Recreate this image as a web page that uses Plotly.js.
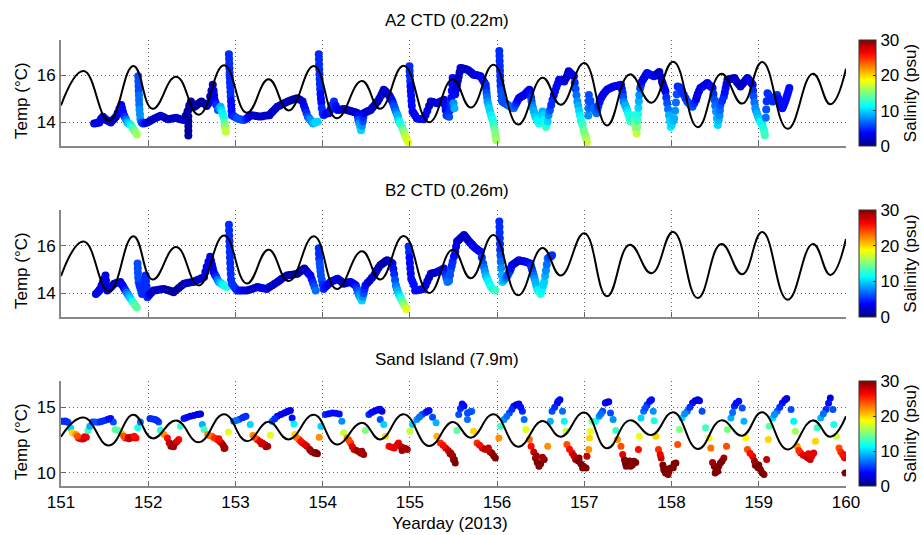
<!DOCTYPE html>
<html>
<head>
<meta charset="utf-8">
<script src="https://cdn.plot.ly/plotly-3.0.1.min.js"></script>
<style>
html,body{margin:0;padding:0;background:#fff;}
#chart{width:923px;height:535px;}
</style>
</head>
<body>
<div id="chart"></div>
<script>
// ---- Tidal signal (black line), extremes ----
const tideDay = [151.00,151.26,151.55,151.83,152.05,152.32,152.58,152.87,153.13,153.38,153.61,153.90,154.16,154.45,154.66,154.93,155.22,155.49,155.70,155.96,156.24,156.52,156.73,157.00,157.26,157.52,157.77,158.02,158.30,158.57,158.81,159.04,159.33,159.62,159.82,160.00];
const tideCTD = [14.72,16.18,14.08,16.40,14.58,15.94,14.33,16.43,14.41,15.83,14.51,16.40,14.18,15.76,14.58,16.41,14.01,15.83,14.63,16.45,13.91,15.90,14.75,16.52,13.87,16.04,14.84,16.58,13.80,16.07,14.80,16.57,13.73,16.07,14.77,16.28];
const tideSand = [12.75,14.21,12.09,14.42,12.63,13.99,12.33,14.47,12.42,13.89,12.55,14.42,12.17,13.81,12.55,14.47,12.05,13.88,12.68,14.47,12.00,13.96,12.75,14.60,11.87,14.00,12.88,14.62,11.82,14.00,12.83,14.62,11.79,14.00,12.75,14.32];

// ---- A2 CTD (0.22m) ----
const a2Day = [
151.38,151.40,151.42,151.44,151.45,151.46,151.48,151.50,151.52,151.54,151.57,151.59,151.61,151.63,151.65,151.67,151.69,151.70,151.71,151.72,151.73,151.745,151.76,151.78,151.80,151.82,151.84,151.855,151.87,
151.885,151.887,151.889,151.891,151.893,151.895,151.897,151.90,151.905,151.91,
151.925,151.94,151.96,151.99,152.02,152.05,152.08,152.11,152.14,152.17,152.20,152.23,152.26,152.29,152.32,152.35,152.38,152.41,152.43,152.45,
152.46,152.46,152.46,152.46,152.46,152.465,152.47,152.49,152.51,152.53,152.55,152.57,152.59,152.61,152.63,152.65,152.67,152.69,152.71,152.725,152.74,152.75,152.755,152.76,152.77,152.78,152.80,152.815,152.83,152.84,152.85,152.86,152.87,152.875,152.88,152.885,152.89,
152.925,152.927,152.929,152.931,152.933,152.935,152.937,152.94,152.943,152.946,152.949,152.952,152.955,152.96,
152.98,153.00,153.02,153.04,153.06,153.08,153.10,153.12,153.14,153.16,153.18,153.21,153.24,153.27,153.30,153.33,153.36,153.39,153.41,153.43,153.455,153.48,153.51,153.54,153.57,153.60,153.63,153.66,153.69,153.71,153.74,153.77,153.785,153.80,153.815,153.83,153.845,153.86,153.875,153.89,153.915,153.94,
153.955,153.957,153.959,153.961,153.963,153.965,153.968,153.971,153.975,153.98,153.985,153.99,154.00,154.01,
154.025,154.04,154.055,154.07,154.085,154.10,154.115,154.13,154.15,154.17,154.19,154.21,154.24,154.26,154.28,154.30,154.32,154.34,154.36,154.38,154.40,
154.405,154.41,154.42,154.43,154.44,154.45,154.46,154.465,154.47,154.49,154.51,154.53,154.55,154.57,154.59,154.61,154.63,154.65,154.67,154.685,154.70,154.715,154.73,154.745,154.76,154.77,154.78,154.79,154.80,154.81,154.82,154.83,154.84,154.85,154.86,154.865,154.87,154.88,154.89,154.90,154.91,154.92,154.93,154.94,154.95,154.965,154.98,
154.995,154.997,155.00,155.003,155.006,155.01,155.014,155.018,155.022,155.03,
155.045,155.06,155.08,155.10,155.12,155.14,155.16,155.18,155.20,155.22,155.24,155.26,155.28,155.31,155.33,155.35,155.37,155.39,155.40,155.41,155.42,155.435,155.45,155.46,155.47,155.475,155.48,155.485,155.49,
155.50,155.51,155.52,155.53,155.54,155.55,155.56,155.57,155.58,155.60,155.62,155.64,155.66,155.68,155.70,155.715,155.73,155.75,155.77,155.79,155.81,155.825,155.84,155.855,155.87,155.875,155.88,155.885,155.89,155.90,155.91,155.92,155.93,155.94,155.95,155.955,155.96,155.97,155.98,155.985,155.99,
156.025,156.027,156.029,156.031,156.033,156.035,156.037,156.04,156.045,156.05,156.055,156.06,
156.075,156.09,156.105,156.12,156.14,156.16,156.175,156.19,156.205,156.22,156.235,156.25,156.265,156.28,156.295,156.31,156.325,156.34,156.355,156.37,
156.38,156.39,156.395,156.40,156.41,156.42,156.43,156.44,156.45,156.46,156.47,156.48,156.49,156.50,156.51,156.52,156.53,156.54,156.55,156.56,156.57,156.58,156.59,156.605,156.62,156.635,156.65,156.665,156.68,156.695,156.71,
156.725,156.74,156.755,156.77,156.785,156.80,156.81,156.82,156.835,156.85,156.865,156.88,
156.89,156.90,156.91,156.92,156.93,156.94,156.95,156.96,156.97,156.98,156.99,157.00,157.01,157.02,157.03,
157.045,157.047,157.05,157.052,
157.07,157.09,157.105,157.12,157.13,157.14,157.15,157.16,157.175,157.19,157.205,157.22,157.24,157.26,157.28,157.30,157.32,157.34,157.36,157.38,157.40,157.42,
157.43,157.44,157.445,157.45,157.46,157.47,157.48,157.49,157.50,157.51,157.52,157.53,157.54,157.55,157.56,157.57,157.575,157.58,157.59,157.60,157.605,157.61,157.615,157.62,157.625,157.63,157.64,157.65,157.66,157.675,157.69,157.705,157.72,
157.74,157.76,157.78,157.80,157.815,157.83,157.845,157.86,157.875,157.89,157.90,157.91,157.92,157.93,157.94,157.95,157.96,157.97,157.98,157.99,
158.00,158.01,158.02,158.03,158.04,158.05,158.06,158.07,158.085,158.10,158.12,158.14,158.16,158.18,158.195,158.21,158.225,158.24,158.26,158.28,158.29,158.30,158.315,158.33,158.35,158.37,158.39,158.41,158.425,158.44,158.455,158.47,
158.48,158.49,158.50,158.51,158.52,158.53,158.54,158.55,158.555,158.56,158.58,158.60,158.61,158.62,158.63,158.64,158.66,158.68,158.70,158.72,158.735,158.75,158.77,158.79,158.81,158.83,158.85,158.87,158.885,158.90,158.915,158.93,
158.935,158.94,158.95,158.96,158.97,158.98,158.99,159.00,159.01,159.02,159.03,159.04,159.05,159.06,159.065,159.07,
159.08,159.085,159.09,
159.10,159.115,159.13,159.145,159.16,159.175,159.19,159.20,159.21,159.225,159.24,159.255,159.27,159.28,159.29,159.30,159.31,159.32,159.33,159.34,159.35];
const a2Temp = [
13.96,13.97,13.99,14.00,14.08,14.16,14.24,14.17,14.10,14.06,14.00,14.08,14.16,14.24,14.40,14.58,14.74,14.60,14.45,14.32,14.24,14.12,14.00,13.95,13.89,13.78,13.67,13.58,13.49,
15.96,15.75,15.55,15.35,15.15,14.95,14.75,14.55,14.35,14.15,
14.00,13.96,13.97,14.00,14.06,14.12,14.18,14.23,14.28,14.24,14.18,14.14,14.16,14.18,14.20,14.16,14.12,14.10,14.28,14.46,
14.25,14.05,13.85,13.65,13.45,14.55,14.72,14.89,14.78,14.67,14.72,14.78,14.84,14.89,14.83,14.78,14.70,14.80,15.10,15.35,15.60,15.35,15.15,14.96,14.85,14.75,14.53,14.60,14.67,14.52,14.40,14.28,14.17,14.00,13.85,13.72,13.60,
16.89,16.70,16.50,16.30,16.10,15.90,15.70,15.50,15.30,15.10,14.90,14.70,14.50,14.31,
14.26,14.22,14.18,14.15,14.13,14.11,14.10,14.15,14.20,14.26,14.31,14.29,14.27,14.25,14.25,14.28,14.30,14.31,14.40,14.48,14.57,14.67,14.72,14.78,14.84,14.89,14.93,14.97,15.01,15.03,14.96,14.89,14.72,14.56,14.40,14.24,14.17,14.10,14.03,13.96,14.00,14.03,
16.89,16.68,16.47,16.26,16.05,15.84,15.63,15.42,15.22,15.02,14.85,14.60,14.40,14.31,
14.35,14.39,14.39,14.39,14.51,14.64,14.76,14.89,14.71,14.53,14.54,14.55,14.57,14.55,14.53,14.51,14.49,14.46,14.44,14.42,14.39,
14.25,14.10,13.96,13.82,13.67,13.86,14.05,14.22,14.39,14.42,14.46,14.50,14.53,14.62,14.71,14.80,14.89,15.02,15.14,15.26,15.39,15.33,15.28,15.22,15.17,15.10,15.03,14.96,14.89,14.78,14.68,14.57,14.46,14.37,14.28,14.19,14.10,14.02,13.95,13.88,13.81,13.70,13.60,13.50,13.39,13.28,13.17,
16.39,16.18,15.97,15.76,15.55,15.34,15.13,14.92,14.71,14.46,
14.38,14.30,14.17,14.16,14.15,14.15,14.14,14.32,14.50,14.70,14.89,14.87,14.85,14.81,14.85,14.88,14.92,14.96,14.75,14.53,14.31,14.27,14.24,14.52,14.80,15.05,15.35,15.62,15.89,
14.81,14.60,15.20,15.40,15.60,15.78,15.95,16.13,16.31,16.30,16.28,16.26,16.24,16.18,16.13,16.08,16.03,16.01,16.00,15.98,15.96,15.87,15.78,15.69,15.60,15.42,15.25,15.07,14.89,14.75,14.60,14.45,14.31,14.20,14.10,14.00,13.89,13.72,13.55,13.40,13.24,
17.03,16.82,16.61,16.40,16.19,15.98,15.77,15.56,15.35,15.14,14.95,14.89,
14.85,14.82,14.78,14.74,14.70,14.67,14.63,14.60,14.71,14.82,14.93,15.03,15.07,15.10,15.13,15.17,15.22,15.28,15.33,15.39,
15.22,15.05,14.90,14.74,14.62,14.49,14.36,14.24,14.17,14.10,14.03,13.96,14.08,14.20,14.33,14.46,14.30,14.13,13.97,13.81,13.93,14.05,14.31,14.52,14.74,14.95,15.17,15.33,15.50,15.65,15.81,
15.80,15.78,15.76,15.74,15.85,15.95,16.06,16.17,16.11,16.06,16.01,15.96,
15.69,15.42,15.15,14.89,14.70,14.50,14.30,14.10,13.99,13.88,13.67,13.56,13.46,13.31,13.17,
14.30,14.60,14.90,15.17,
14.92,14.67,14.60,14.53,14.46,14.39,14.55,14.70,14.87,15.03,15.12,15.21,15.30,15.39,15.43,15.46,15.50,15.53,15.55,15.56,15.58,15.60,
15.42,15.25,15.07,14.89,14.80,14.71,14.62,14.53,14.40,14.28,14.15,14.03,14.10,14.17,14.24,14.31,14.11,13.92,13.72,13.53,13.80,14.08,14.35,14.62,14.90,15.17,15.45,15.60,15.74,15.83,15.92,16.01,16.10,
16.06,16.03,15.99,15.96,16.00,16.05,16.10,16.14,15.94,15.74,15.63,15.52,15.42,15.31,15.06,14.81,14.56,14.31,14.06,13.81,
13.90,14.00,14.09,14.17,14.50,14.85,15.20,15.53,15.50,15.46,15.32,15.18,15.03,14.89,14.83,14.78,14.72,14.67,14.82,14.96,15.08,15.21,15.33,15.46,15.51,15.56,15.61,15.67,15.61,15.56,15.51,15.46,
15.21,14.96,14.71,14.46,14.17,13.89,14.09,14.30,14.52,14.74,14.92,15.10,15.27,15.45,15.63,15.81,15.83,15.85,15.87,15.89,15.80,15.71,15.62,15.53,15.62,15.71,15.80,15.89,15.82,15.75,15.67,15.60,
15.35,15.10,14.85,14.60,14.49,14.38,14.27,14.17,14.10,14.03,13.96,13.89,13.78,13.67,13.56,13.46,
14.20,14.55,14.90,
15.24,15.15,15.06,14.97,14.89,14.96,15.03,15.10,15.17,15.02,14.88,14.74,14.60,14.69,14.78,14.87,14.96,15.09,15.21,15.34,15.46];
const a2Sal = [
3,3,3,3,3,3,3,2,2,2,2,2,2,2,3,3,3,4,4,4,5,7,9,10,11,13,14,15,16,
6,6,6,6,7,7,7,8,8,8,
6,5,4,3,2,2,2,2,2,2,2,2,2,2,2,2,2,2,1,1,
1,1,1,1,1,1,1,1,1,1,1,1,1,1,1,1,1,2,2,2,2,3,3,3,4,5,6,8,9,10,11,11,12,14,15,16,17,
5,5,5,5,5,5,5,5,5,5,4,4,4,4,
5,5,6,6,6,6,6,5,4,3,3,2,2,2,2,2,2,2,2,2,2,2,2,2,2,2,1,1,1,1,2,2,3,4,5,6,7,8,8,9,10,10,
5,5,5,5,5,5,5,5,4,4,4,5,5,5,
4,4,3,3,4,4,5,5,4,4,3,3,2,2,2,2,2,2,2,2,2,
4,6,8,9,10,8,6,5,4,3,2,2,2,2,2,2,2,2,2,2,2,2,2,2,2,3,3,4,4,5,6,6,7,8,9,9,10,11,12,12,13,14,15,16,17,17,18,
5,5,5,5,4,4,4,4,4,4,
3,3,3,4,4,4,4,3,3,2,2,2,2,3,3,3,3,3,4,4,5,5,6,5,5,4,4,4,4,
8,9,4,3,3,2,2,2,2,2,2,2,2,2,2,2,2,3,3,3,3,4,4,4,5,5,6,7,8,9,10,10,11,11,12,12,13,14,15,15,16,
5,5,5,5,5,5,5,5,6,6,6,6,
6,6,6,6,7,7,7,7,6,5,4,3,3,3,3,3,3,3,3,3,
4,5,6,7,8,9,9,10,10,11,11,12,11,11,10,9,10,11,12,13,12,10,8,6,5,5,4,4,4,4,4,
3,3,3,3,2,2,2,2,3,3,3,3,
5,6,7,8,9,10,11,12,12,13,14,15,15,16,17,
8,7,6,6,
6,6,7,7,7,7,6,5,4,4,3,3,3,3,3,3,3,3,3,3,3,3,
4,5,6,7,8,9,9,10,11,12,12,13,13,12,12,12,13,15,16,17,15,13,12,10,9,8,6,5,4,3,3,3,3,
4,4,4,4,3,3,2,2,2,2,2,2,3,3,5,6,7,9,10,11,
10,10,9,9,8,7,6,5,5,5,5,5,5,5,6,6,6,6,5,4,3,3,3,3,3,3,3,3,3,3,4,4,
5,6,7,8,9,10,9,8,7,6,5,5,4,4,3,3,2,2,2,2,2,2,2,2,2,2,2,2,3,3,3,3,
5,6,7,8,8,9,9,10,10,11,11,11,12,12,13,13,
7,6,5,
5,5,5,5,5,5,5,5,5,4,4,4,4,4,4,4,4,4,4,4,4];

// ---- B2 CTD (0.26m) ----
const b2Day = [
151.40,151.42,151.43,151.44,151.45,151.465,151.48,151.495,151.51,151.515,151.52,151.53,151.55,151.57,151.59,151.61,151.64,151.68,151.695,151.71,151.725,151.74,151.755,151.77,151.785,151.80,151.82,151.84,151.855,151.87,
151.878,151.88,151.882,151.885,151.89,151.90,151.91,151.92,151.93,151.94,151.95,151.96,151.97,151.975,151.98,151.985,151.99,152.005,152.02,152.04,152.06,152.09,152.12,152.15,152.18,152.21,152.24,
152.265,152.29,152.32,152.35,152.38,152.41,152.435,152.46,152.49,152.52,152.55,152.58,152.61,152.64,152.655,152.67,152.69,152.71,152.72,152.73,152.74,152.75,152.765,152.78,152.795,152.81,152.825,152.84,152.855,152.87,152.885,152.90,
152.925,152.927,152.929,152.931,152.933,152.935,152.937,152.94,152.943,152.946,152.95,152.96,152.98,153.00,153.02,
153.045,153.07,153.10,153.13,153.16,153.19,153.22,153.25,153.275,153.30,153.33,153.36,153.39,153.42,153.45,153.48,153.505,153.53,153.56,153.59,153.62,153.65,153.68,153.71,153.73,153.75,153.77,153.79,153.805,153.82,153.84,153.86,153.875,153.89,153.905,153.92,
153.955,153.957,153.96,153.965,153.97,153.975,153.98,153.99,154.00,154.01,
154.03,154.05,154.07,154.09,154.11,154.13,154.15,154.17,154.19,154.21,154.225,154.24,154.26,154.28,154.30,154.32,154.335,154.35,154.365,154.38,154.39,154.40,154.41,154.42,154.435,154.45,154.46,154.47,154.48,154.49,154.515,154.54,154.565,154.59,154.605,154.62,
154.64,154.66,154.68,154.70,154.72,154.74,154.755,154.77,154.785,154.80,154.81,154.82,154.83,154.84,154.85,154.86,154.875,154.89,154.90,154.91,154.92,154.93,154.945,154.96,
154.985,154.99,154.995,155.00,155.005,155.01,155.015,155.03,155.045,155.06,155.085,155.11,155.135,155.16,155.18,155.20,155.22,155.24,155.26,155.28,155.31,155.33,155.35,155.37,155.39,155.40,155.41,155.42,155.43,155.44,155.45,155.46,155.47,155.48,155.49,155.505,155.52,155.53,155.54,
155.56,155.58,155.60,155.62,155.635,155.65,155.665,155.68,155.695,155.71,155.72,155.73,155.75,155.77,155.79,155.81,155.825,155.84,155.85,155.86,155.87,155.885,155.90,155.915,155.93,155.95,155.965,155.98,
156.025,156.027,156.029,156.031,156.033,156.035,156.038,156.042,156.047,156.052,156.06,
156.075,156.09,156.105,156.12,156.135,156.15,156.16,156.17,156.19,156.21,156.23,156.25,156.27,156.29,156.31,156.33,156.355,156.38,156.39,156.40,156.41,156.42,156.43,156.44,156.45,156.46,156.47,156.48,156.49,156.50,156.51,156.52,156.53,156.54,156.55,156.56,156.57,156.58,156.595,156.61,156.62,156.63];
const b2Temp = [
13.97,14.04,14.07,14.12,14.18,14.32,14.46,14.60,14.75,14.54,14.33,14.11,14.18,14.25,14.33,14.40,14.44,14.47,14.38,14.30,14.20,14.11,14.02,13.94,13.85,13.76,13.65,13.55,13.47,13.40,
15.25,15.05,14.86,14.66,14.47,14.34,14.22,14.10,13.97,14.16,14.36,14.55,14.75,14.52,14.29,14.06,13.83,13.90,13.97,14.04,14.11,14.13,14.15,14.17,14.18,14.15,14.11,
14.08,14.04,14.13,14.22,14.31,14.40,14.42,14.44,14.46,14.47,14.53,14.58,14.63,14.68,14.89,15.10,15.32,15.53,15.37,15.21,15.05,14.89,14.78,14.68,14.57,14.47,14.44,14.40,14.37,14.33,14.30,14.26,
16.88,16.65,16.42,16.19,15.96,15.73,15.50,15.27,15.04,14.81,14.58,14.40,14.29,14.20,14.11,
14.11,14.11,14.11,14.11,14.15,14.18,14.22,14.26,14.24,14.22,14.20,14.18,14.26,14.33,14.40,14.47,14.54,14.61,14.68,14.75,14.77,14.78,14.80,14.82,14.88,14.93,14.99,15.04,14.97,14.90,14.82,14.75,14.59,14.43,14.27,14.11,
15.89,15.67,15.45,15.27,15.10,14.92,14.75,14.56,14.37,14.18,
14.26,14.33,14.40,14.47,14.51,14.54,14.58,14.61,14.56,14.50,14.45,14.40,14.42,14.44,14.46,14.47,14.44,14.40,14.37,14.33,14.22,14.10,14.00,13.90,13.80,13.69,13.85,14.00,14.17,14.33,14.44,14.54,14.65,14.75,14.86,14.96,
15.07,15.18,15.23,15.28,15.34,15.39,15.36,15.32,15.28,15.25,15.02,14.80,14.56,14.33,14.20,14.08,13.95,13.83,13.76,13.69,13.62,13.55,13.44,13.33,
15.96,15.73,15.50,15.27,15.05,14.83,14.61,14.48,14.36,14.11,14.13,14.15,14.17,14.18,14.34,14.50,14.66,14.82,14.84,14.85,14.89,14.92,14.96,15.00,15.04,14.92,14.79,14.63,14.47,14.50,14.54,14.77,15.00,15.16,15.32,15.54,15.75,15.96,16.17,
16.24,16.31,16.38,16.45,16.38,16.31,16.24,16.17,16.11,16.06,16.01,15.96,15.90,15.85,15.79,15.74,15.50,15.25,15.08,14.92,14.75,14.62,14.50,14.38,14.26,14.18,14.15,14.11,
17.02,16.78,16.55,16.31,16.07,15.83,15.60,15.32,15.05,14.76,14.47,
14.54,14.61,14.68,14.75,14.86,14.96,15.07,15.18,15.23,15.28,15.33,15.39,15.37,15.35,15.33,15.32,15.28,15.25,15.12,15.00,14.87,14.75,14.61,14.47,14.32,14.18,14.12,14.07,14.02,13.97,14.10,14.22,14.35,14.47,14.72,14.96,15.21,15.46,15.50,15.53,15.57,15.60];
const b2Sal = [
3,3,3,3,3,3,3,3,3,3,3,3,2,2,2,2,2,2,3,3,4,5,7,8,9,10,12,13,14,14,
6,6,6,6,6,5,5,5,5,5,5,5,5,5,5,5,5,4,3,2,2,2,2,2,2,1,1,
1,1,1,1,1,1,2,2,2,2,2,2,2,2,3,3,3,3,3,3,3,3,4,5,7,8,9,10,11,11,12,12,
5,5,5,5,5,5,5,5,5,5,5,5,5,5,5,
4,4,3,3,2,2,2,2,3,3,3,3,2,2,2,2,2,2,2,2,1,1,1,1,1,1,1,1,2,2,3,3,4,5,6,7,
5,5,5,6,6,6,6,6,5,5,
4,4,3,3,3,3,3,3,2,2,2,2,2,2,2,2,3,3,3,4,5,6,7,8,9,10,8,6,5,4,3,2,2,2,2,2,
2,2,1,1,1,1,2,2,3,3,4,5,6,7,8,9,10,11,12,13,14,15,16,18,
5,5,4,4,4,4,4,4,4,4,4,4,4,4,3,3,2,2,2,2,2,3,3,3,3,4,5,6,8,7,7,6,6,5,5,4,4,3,3,
2,2,2,2,2,2,2,2,2,3,3,3,3,3,3,4,5,6,7,8,9,10,11,11,12,12,12,13,
5,5,5,5,5,5,6,7,8,9,10,
9,8,7,6,5,5,4,4,3,3,2,2,3,3,3,3,4,4,5,5,6,7,8,9,9,10,11,11,12,12,11,11,10,10,9,8,7,7,6,6,5,5];

// ---- Sand Island (7.9m) ----
const sandDay = [151.01,151.05,151.08,151.11,151.13,151.17,151.20,151.24,151.29,151.31,151.33,151.36,151.42,151.47,151.53,151.57,151.60,151.62,151.66,151.70,151.74,151.80,151.86,151.88,151.91,152.02,152.08,152.12,152.14,152.18,152.22,152.26,152.31,152.35,152.37,152.41,152.48,152.56,152.60,152.62,152.64,152.68,152.73,152.79,152.84,152.88,152.92,152.98,153.04,153.12,153.17,153.20,153.25,153.31,153.37,153.40,153.42,153.48,153.56,153.63,153.65,153.67,153.68,153.73,153.77,153.82,153.88,153.94,153.96,153.98,154.03,154.11,154.19,154.22,154.24,154.28,154.32,154.36,154.42,154.47,154.49,154.53,154.59,154.64,154.68,154.66,154.70,154.72,154.76,154.82,154.87,154.93,154.97,155.00,155.03,155.08,155.14,155.22,155.26,155.30,155.31,155.35,155.41,155.47,155.51,155.52,155.54,155.56,155.60,155.66,155.71,155.66,155.73,155.77,155.83,155.89,155.94,155.98,156.02,156.04,156.08,156.14,156.19,156.25,156.29,156.31,156.33,156.37,156.39,156.44,156.48,156.54,156.58,156.61,156.63,156.69,156.72,156.75,156.77,156.79,156.80,156.86,156.90,156.94,156.98,157.02,157.03,157.05,157.06,157.07,157.09,157.13,157.17,157.21,157.24,157.28,157.30,157.33,157.36,157.38,157.42,157.44,157.47,157.53,157.57,157.62,157.63,157.65,157.68,157.72,157.77,157.79,157.80,157.82,157.85,157.88,157.91,157.96,157.99,158.05,158.07,158.09,158.12,158.18,158.24,158.30,158.35,158.39,158.43,158.45,158.49,158.53,158.56,158.60,158.63,158.64,158.68,158.72,158.77,158.81,158.83,158.85,158.87,158.93,158.96,159.02,159.06,159.09,159.11,159.12,159.16,159.21,159.27,159.32,159.37,159.40,159.42,159.44,159.48,159.54,159.59,159.63,159.65,159.67,159.71,159.77,159.82,159.85,159.86,159.89,159.92,159.96,159.99,159.99];
const sandTemp = [13.93,13.95,13.85,13.43,13.05,12.92,12.66,12.59,12.72,13.22,13.55,13.88,13.86,13.93,14.06,14.14,13.88,13.30,13.22,12.97,12.66,12.72,12.66,13.43,13.88,14.14,14.06,13.88,13.25,12.92,12.66,12.03,12.28,12.54,13.55,14.14,14.31,14.44,14.49,13.68,13.30,12.92,12.79,12.54,12.28,11.90,13.12,13.93,14.06,14.31,13.68,12.87,12.54,12.28,12.03,12.87,13.93,14.31,14.57,14.75,14.19,13.73,12.92,12.54,12.28,12.03,11.60,11.45,12.72,13.55,14.44,14.57,14.49,13.93,13.05,12.66,12.28,11.78,11.60,11.40,13.22,14.44,14.70,14.82,14.70,14.06,13.68,12.79,12.03,11.90,12.28,11.90,11.78,13.17,13.68,14.06,14.44,14.75,14.24,13.81,12.79,12.28,11.90,11.52,11.01,10.76,13.22,14.44,15.25,14.57,14.70,14.06,13.17,12.28,11.90,11.78,11.52,11.14,12.66,13.55,14.06,14.57,15.08,15.25,14.70,14.06,13.30,12.54,12.03,11.14,10.51,11.01,12.03,13.93,14.70,15.33,15.58,14.70,13.93,13.17,12.16,11.52,11.01,11.14,10.38,10.38,11.27,11.78,12.66,13.17,13.93,13.93,14.31,14.70,15.33,15.41,14.57,14.06,13.22,12.54,12.03,11.40,10.76,10.51,10.89,11.78,12.79,14.19,14.70,15.20,15.58,14.70,13.98,12.79,11.78,11.14,10.25,9.87,10.38,10.76,12.16,13.30,14.19,14.70,15.33,15.58,14.70,13.43,12.66,11.90,10.51,10.13,10.76,11.14,12.03,13.30,14.19,15.08,15.46,14.95,13.93,12.66,11.78,11.27,10.58,10.25,9.87,11.01,12.54,13.55,14.19,14.70,15.33,15.66,14.82,13.93,13.17,12.03,11.52,11.27,11.01,11.52,12.41,13.43,14.19,14.82,15.71,14.82,13.68,12.79,11.90,11.40,11.14,10.00];
const sandSal = [5,5,6,10,20,22,26,27,27,13,9,6,6,5,5,4,6,14,14,21,26,27,26,12,7,5,5,6,12,22,26,29,28,26,13,4,3,3,3,9,13,22,24,26,28,29,18,7,6,5,10,22,26,28,29,18,7,4,3,3,4,11,20,25,27,28,30,30,22,10,5,4,4,8,17,22,25,28,29,29,15,5,4,3,3,6,10,20,26,27,27,29,29,17,10,8,6,4,6,9,21,25,27,28,30,30,14,6,4,6,7,7,20,25,27,29,30,30,22,13,8,6,4,3,5,7,18,23,26,29,30,30,22,9,6,4,3,7,11,17,24,27,29,30,30,30,28,22,20,18,15,12,8,6,4,3,6,8,13,22,24,27,30,30,30,26,18,10,7,5,4,8,12,20,25,28,30,30,30,30,24,15,10,7,4,2,6,13,18,23,30,30,30,29,24,15,9,5,4,6,9,19,24,27,30,30,30,28,20,14,10,7,4,3,6,11,16,22,26,27,28,27,20,13,9,5,3,6,12,17,24,25,26,30];
// further Sand Island dots inside the clusters
const sandDay2 = [151.03,151.065,151.22,151.26,151.27,151.19,151.39,151.45,151.50,151.55,151.72,151.77,151.83,151.78,151.84,152.05,152.10,152.24,152.28,152.33,152.29,152.44,152.52,152.58,152.70,152.76,152.82,152.86,152.87,152.81,153.01,153.08,153.10,153.22,153.28,153.34,153.35,153.30,153.45,153.52,153.59,153.61,153.70,153.75,153.80,153.85,153.91,153.92,153.86,154.07,154.15,154.30,154.34,154.39,154.44,154.45,154.56,154.62,154.66,154.79,154.85,154.90,154.95,154.91,155.11,155.18,155.20,155.38,155.44,155.49,155.50,155.46,155.58,155.62,155.69,155.80,155.86,155.92,155.96,155.90,156.11,156.17,156.22,156.27,156.42,156.46,156.50,156.52,156.45,156.66,156.70,156.83,156.88,156.92,156.96,156.99,156.93,157.19,157.26,157.46,157.50,157.55,157.59,157.52,157.48,157.70,157.75,157.87,157.90,157.93,157.97,158.02,158.03,157.95,158.15,158.21,158.27,158.32,158.47,158.51,158.54,158.58,158.50,158.70,158.74,158.90,158.95,158.99,159.04,159.00,159.18,159.24,159.30,159.46,159.51,159.56,159.61,159.57,159.74,159.80,159.94,159.98,159.97];
const sandTemp2 = [13.94,13.90,12.62,12.60,12.75,12.80,13.87,13.90,14.00,14.10,12.80,12.70,12.68,12.60,12.80,14.10,14.00,12.30,12.15,12.40,12.00,14.22,14.38,14.47,12.85,12.65,12.40,12.10,11.85,12.60,14.00,14.20,14.25,12.70,12.40,12.15,12.00,12.20,14.12,14.45,14.65,14.72,12.70,12.40,12.15,11.80,11.50,11.55,11.70,14.50,14.55,12.50,12.00,11.70,11.50,11.65,14.60,14.78,14.84,11.95,12.10,12.00,11.85,11.70,14.25,14.60,14.70,12.10,11.70,11.30,11.00,11.45,14.90,15.10,14.65,12.10,11.80,11.60,11.30,11.90,14.30,14.85,15.20,15.00,11.60,10.80,10.70,11.20,11.30,15.00,15.45,11.80,11.30,11.00,10.70,10.50,10.90,14.50,15.38,11.00,10.60,10.60,10.80,10.90,10.50,14.95,15.45,11.40,10.60,10.00,10.10,10.40,10.70,10.30,14.50,15.00,15.50,15.50,10.80,10.30,10.50,10.90,10.00,14.60,15.30,11.50,10.90,10.40,10.00,10.60,14.45,15.00,15.55,11.70,11.35,11.15,11.30,11.45,14.50,15.30,11.60,11.20,11.40];
const sandSal2 = [5,5,27,28,27,24,6,5,5,4,24,27,27,28,26,5,5,28,29,27,29,4,3,3,23,25,27,29,29,26,7,5,5,24,27,28,29,28,5,3,3,3,23,26,27,29,30,30,29,4,4,24,27,29,29,29,4,3,3,27,27,28,29,29,7,5,4,26,28,29,30,29,5,4,6,26,28,29,30,28,7,5,3,4,28,30,30,29,29,5,4,26,28,29,30,30,30,7,3,30,30,30,30,30,30,6,4,27,30,30,30,30,30,30,8,5,3,3,29,30,30,30,30,7,4,26,29,30,30,30,8,5,3,25,27,28,27,27,7,4,25,27,26];

// MATLAB-style jet colormap
const jet = [[0,'rgb(0,0,128)'],[0.125,'rgb(0,0,255)'],[0.375,'rgb(0,255,255)'],[0.625,'rgb(255,255,0)'],[0.875,'rgb(255,0,0)'],[1,'rgb(128,0,0)']];

const W = 923, H = 535;
const px = v => v / W;
const py = v => 1 - v / H;
const FONT = 'Liberation Sans, Arial, Helvetica, sans-serif';

const panels = [
  {top: 40, bottom: 146},
  {top: 210, bottom: 317},
  {top: 381, bottom: 486}
];

function cbar(p) {
  return {
    x: px(859), xanchor: 'left', xpad: 0,
    y: py((p.top + p.bottom) / 2), yanchor: 'middle', ypad: 0,
    len: (p.bottom - p.top) / H, lenmode: 'fraction',
    thickness: 17, thicknessmode: 'pixels',
    outlinecolor: '#333', outlinewidth: 1,
    tickvals: [0, 10, 20, 30], ticks: 'inside', ticklen: 3, tickcolor: '#333',
    tickfont: {size: 17, color: '#000', family: FONT},
    title: {text: 'Salinity (psu)', side: 'right', font: {size: 17, color: '#000', family: FONT}}
  };
}

function axId(n) { return n === 1 ? '' : String(n); }

function scatterTrace(day, temp, sal, axn, p, size) {
  const n = Math.min(day.length, temp.length, sal.length);
  return {
    type: 'scatter', mode: 'markers', x: day.slice(0, n), y: temp.slice(0, n),
    xaxis: 'x' + axId(axn), yaxis: 'y' + axId(axn),
    marker: {color: sal.slice(0, n), colorscale: jet, cmin: 0, cmax: 30, size: size, line: {width: 0},
             showscale: true, colorbar: cbar(p)},
    hoverinfo: 'skip', showlegend: false
  };
}
function tideTrace(vals, axn) {
  return {
    type: 'scatter', mode: 'lines', x: tideDay, y: vals,
    xaxis: 'x' + axId(axn), yaxis: 'y' + axId(axn),
    line: {color: '#000', width: 2, shape: 'spline', smoothing: 1.3},
    hoverinfo: 'skip', showlegend: false
  };
}

const data = [
  scatterTrace(a2Day, a2Temp, a2Sal, 1, panels[0], 8),
  tideTrace(tideCTD, 1),
  scatterTrace(b2Day, b2Temp, b2Sal, 2, panels[1], 8),
  tideTrace(tideCTD, 2),
  scatterTrace(sandDay.concat(sandDay2), sandTemp.concat(sandTemp2), sandSal.concat(sandSal2), 3, panels[2], 7),
  tideTrace(tideSand, 3)
];

function xax(anchor, labels) {
  return {
    domain: [px(61), px(846)], range: [151, 160], anchor: anchor,
    tickvals: [151,152,153,154,155,156,157,158,159,160], showticklabels: labels,
    ticks: 'inside', ticklen: 5, tickcolor: '#666', tickwidth: 1,
    showline: true, linecolor: '#888', linewidth: 2,
    showgrid: true, gridcolor: '#666', griddash: '1px,3px', gridwidth: 1,
    zeroline: false, tickfont: {size: 17, color: '#000', family: FONT}
  };
}
function yax(anchor, p, range, tv) {
  return {
    domain: [py(p.bottom), py(p.top)], range: range, anchor: anchor,
    tickvals: tv, ticks: 'inside', ticklen: 5, tickcolor: '#666',
    showline: true, linecolor: '#888', linewidth: 2,
    showgrid: true, gridcolor: '#666', griddash: '1px,3px', gridwidth: 1,
    zeroline: false, tickfont: {size: 17, color: '#000', family: FONT}
  };
}

const ann = (text, x, y, angle) => ({
  text: text, x: px(x), y: py(y), xref: 'paper', yref: 'paper',
  xanchor: 'center', yanchor: 'middle', showarrow: false, textangle: angle || 0,
  font: {size: 17, color: '#000', family: FONT}
});

const layout = {
  width: W, height: H, margin: {l: 0, r: 0, t: 0, b: 0},
  paper_bgcolor: '#fff', plot_bgcolor: 'rgba(0,0,0,0)',
  font: {family: FONT, color: '#000'},
  showlegend: false,
  xaxis: xax('y', false),
  yaxis: yax('x', panels[0], [13, 17.5], [14, 16]),
  xaxis2: xax('y2', false),
  yaxis2: yax('x2', panels[1], [13, 17.5], [14, 16]),
  xaxis3: xax('y3', true),
  yaxis3: yax('x3', panels[2], [9, 17], [10, 15]),
  annotations: [
    ann('A2 CTD (0.22m)', 447, 20),
    ann('B2 CTD (0.26m)', 447, 190),
    ann('Sand Island (7.9m)', 447, 359),
    ann('Yearday (2013)', 450, 523),
    ann('Temp (°C)', 21, 101, -90),
    ann('Temp (°C)', 21, 271, -90),
    ann('Temp (°C)', 21, 442, -90)
  ]
};

Plotly.newPlot('chart', data, layout, {displayModeBar: false, staticPlot: true});
</script>
</body>
</html>
